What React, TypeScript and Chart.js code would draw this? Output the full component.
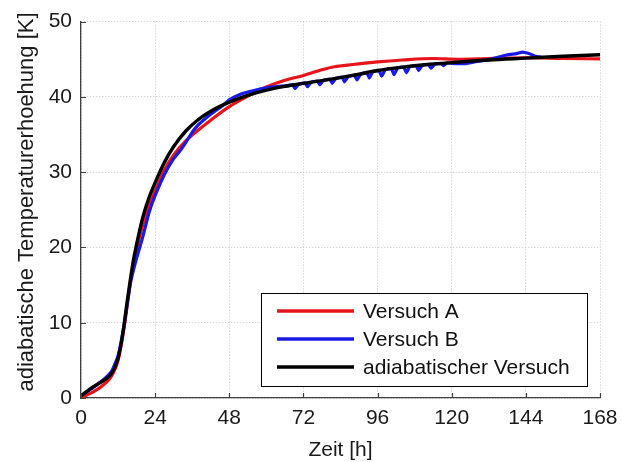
import React, { useEffect, useRef } from 'react';
import { Chart, registerables } from 'chart.js';

Chart.register(...registerables);

// ---- Data ----
const xTicks = [0, 24, 48, 72, 96, 120, 144, 168];
const yTicks = [0, 10, 20, 30, 40, 50];

const labelA = 'Versuch A';
const labelB = 'Versuch B';
const labelAdiab = 'adiabatischer Versuch';

const timeA = [0, 4, 8, 10, 12, 14, 16, 18, 20, 22, 24, 27, 30, 34, 38, 42, 48, 54, 60, 66, 72, 78, 82, 88, 96, 104, 114, 122, 132, 144, 156, 168];
const valA = [0.1, 0.8, 2.0, 3.0, 5.0, 9.5, 15.3, 19.8, 23.0, 25.5, 27.5, 30.3, 32.3, 34.2, 35.6, 36.9, 38.7, 40.1, 41.3, 42.2, 42.85, 43.6, 44.0, 44.3, 44.65, 44.9, 45.1, 45.0, 45.1, 45.2, 45.1, 45.05];

const timeB = [0, 4, 8, 10, 12, 14, 16, 18, 20, 22, 24, 27, 30, 32, 34, 36, 38, 42, 46, 48, 52, 56, 60, 64, 66,
  68.5, 69.3, 70.5, 72.5, 73.3, 74.5, 76.5, 77.3, 78.5, 80.5, 81.3, 82.5, 84.5, 85.3, 86.5, 88.5, 89.3, 90.5,
  92.5, 93.3, 94.5, 96.5, 97.3, 98.5, 100.5, 101.3, 102.5, 104.5, 105.3, 106.5, 108.5, 109.3, 110.5, 112.5, 113.3,
  114.5, 116.5, 117.3, 118.5, 120, 124, 128, 132, 135, 138, 141, 143, 145, 147, 149];
const valB = [0.3, 1.4, 2.7, 3.6, 5.6, 9.8, 15.3, 18.6, 21.4, 24.6, 26.9, 29.7, 31.8, 32.8, 34.0, 35.3, 36.3, 37.7, 38.9, 39.6, 40.4, 40.85, 41.2, 41.4, 41.45,
  41.6, 41.1, 41.7, 41.85, 41.35, 41.95, 42.1, 41.6, 42.2, 42.35, 41.8, 42.45, 42.6, 42.0, 42.7, 42.9, 42.25, 43.0,
  43.25, 42.5, 43.35, 43.5, 42.75, 43.6, 43.75, 42.95, 43.85, 43.95, 43.2, 44.05, 44.15, 43.5, 44.2, 44.3, 43.8,
  44.35, 44.45, 44.15, 44.5, 44.45, 44.4, 44.7, 44.95, 45.25, 45.6, 45.75, 45.95, 45.75, 45.4, 45.25];

const timeAdiab = [0, 2, 4, 6, 8, 10, 11, 12, 13, 14, 15, 16, 17, 18, 19, 20, 22, 24, 27, 30, 34, 38, 42, 48, 54, 60, 66, 72, 80, 88, 96, 104, 112, 120, 132, 144, 156, 168];
const valAdiab = [0.3, 0.9, 1.5, 2.0, 2.5, 3.3, 4.1, 5.3, 7.2, 9.9, 13.0, 15.8, 18.4, 20.4, 22.3, 24.0, 26.6, 28.6, 31.3, 33.4, 35.5, 37.0, 38.1, 39.3, 40.2, 40.9, 41.4, 41.8, 42.3, 42.85, 43.5, 43.95, 44.3, 44.55, 44.9, 45.15, 45.4, 45.6];

const xTitle = 'Zeit [h]';
const yTitle = 'adiabatische Temperaturerhoehung [K]';

const FONT = 'Arial, "Liberation Sans", sans-serif';

const toPoints = (t: number[], v: number[]) => t.map((x, i) => ({ x, y: v[i] }));

const extrasPlugin = {
  id: 'extras',
  afterDraw(chart: any) {
    const { ctx, chartArea, scales } = chart;
    const xs = scales.x;
    const ys = scales.y;
    ctx.save();
    // inward ticks
    ctx.strokeStyle = '#404040';
    ctx.lineWidth = 1.2;
    ctx.beginPath();
    xTicks.forEach((t) => {
      const px = Math.round(xs.getPixelForValue(t)) + 0.5;
      ctx.moveTo(px, chartArea.bottom);
      ctx.lineTo(px, chartArea.bottom - 5);
    });
    yTicks.forEach((t) => {
      const py = Math.round(ys.getPixelForValue(t)) + 0.5;
      ctx.moveTo(chartArea.left, py);
      ctx.lineTo(chartArea.left + 5, py);
    });
    ctx.stroke();

    // axis titles
    ctx.fillStyle = '#1a1a1a';
    ctx.font = `21px ${FONT}`;
    ctx.textAlign = 'center';
    ctx.textBaseline = 'alphabetic';
    ctx.fillText(xTitle, (chartArea.left + chartArea.right) / 2, 456);
    ctx.save();
    ctx.font = `22px ${FONT}`;
    ctx.translate(33, 202);
    ctx.rotate(-Math.PI / 2);
    ctx.fillText(yTitle, 0, 0);
    ctx.restore();

    // legend box
    const bx = 261, by = 293, bw = 326, bh = 93;
    ctx.fillStyle = '#ffffff';
    ctx.fillRect(bx, by, bw, bh);
    ctx.strokeStyle = '#000000';
    ctx.lineWidth = 1;
    ctx.strokeRect(bx + 0.5, by + 0.5, bw, bh);
    const rows = [311, 339, 367];
    const order = [0, 1, 2];
    order.forEach((di, i) => {
      const ds = chart.data.datasets[di];
      ctx.strokeStyle = ds.borderColor;
      ctx.lineWidth = 3.5;
      ctx.beginPath();
      ctx.moveTo(277, rows[i]);
      ctx.lineTo(354, rows[i]);
      ctx.stroke();
      ctx.fillStyle = '#111';
      ctx.textAlign = 'left';
      ctx.textBaseline = 'middle';
      ctx.font = `21px ${FONT}`;
      ctx.fillText(ds.label, 363, rows[i] + 1);
    });
    ctx.restore();
  },
};

export default function App() {
  const canvasRef = useRef<HTMLCanvasElement | null>(null);

  useEffect(() => {
    if (!canvasRef.current) return;
    const gridOpts = {
      color: '#c4c4c4',
      lineWidth: 1,
      drawTicks: false,
    };
    const chart = new Chart(canvasRef.current, {
      type: 'line',
      data: {
        datasets: [
          {
            label: labelA,
            data: toPoints(timeA, valA),
            borderColor: '#e8141c',
            borderWidth: 3.2,
            pointRadius: 0,
            cubicInterpolationMode: 'monotone',
            order: 3,
          },
          {
            label: labelB,
            data: toPoints(timeB, valB),
            borderColor: '#1a1ae6',
            borderWidth: 3.2,
            pointRadius: 0,
            tension: 0.1,
            order: 2,
          },
          {
            label: labelAdiab,
            data: toPoints(timeAdiab, valAdiab),
            borderColor: '#000000',
            borderWidth: 3.4,
            pointRadius: 0,
            cubicInterpolationMode: 'monotone',
            order: 1,
          },
        ],
      },
      options: {
        animation: false,
        responsive: false,
        maintainAspectRatio: false,
        layout: { padding: { left: 0, top: 18, right: 30, bottom: 0 } },
        plugins: { legend: { display: false }, tooltip: { enabled: false } },
        scales: {
          x: {
            type: 'linear',
            min: 0,
            max: 168,
            afterBuildTicks: (scale: any) => {
              scale.ticks = xTicks.map((v) => ({ value: v }));
            },
            afterFit: (scale: any) => {
              scale.height = 64;
            },
            ticks: {
              padding: 8,
              color: '#1a1a1a',
              font: { family: FONT, size: 21 },
              maxRotation: 0,
            },
            grid: gridOpts,
            border: { display: true, color: '#404040', width: 1.3, dash: [1, 2] },
          },
          y: {
            type: 'linear',
            min: 0,
            max: 50,
            afterBuildTicks: (scale: any) => {
              scale.ticks = yTicks.map((v) => ({ value: v }));
            },
            afterFit: (scale: any) => {
              scale.width = 81;
            },
            ticks: {
              padding: 9,
              color: '#1a1a1a',
              font: { family: FONT, size: 21 },
            },
            grid: gridOpts,
            border: { display: true, color: '#404040', width: 1.3, dash: [1, 2] },
          },
        },
      },
      plugins: [extrasPlugin],
    } as any);
    return () => chart.destroy();
  }, []);

  return (
    <div style={{ position: 'fixed', left: 0, top: 0, width: 630, height: 462, background: '#fff' }}>
      <canvas ref={canvasRef} width={630} height={462} style={{ display: 'block' }} />
    </div>
  );
}
